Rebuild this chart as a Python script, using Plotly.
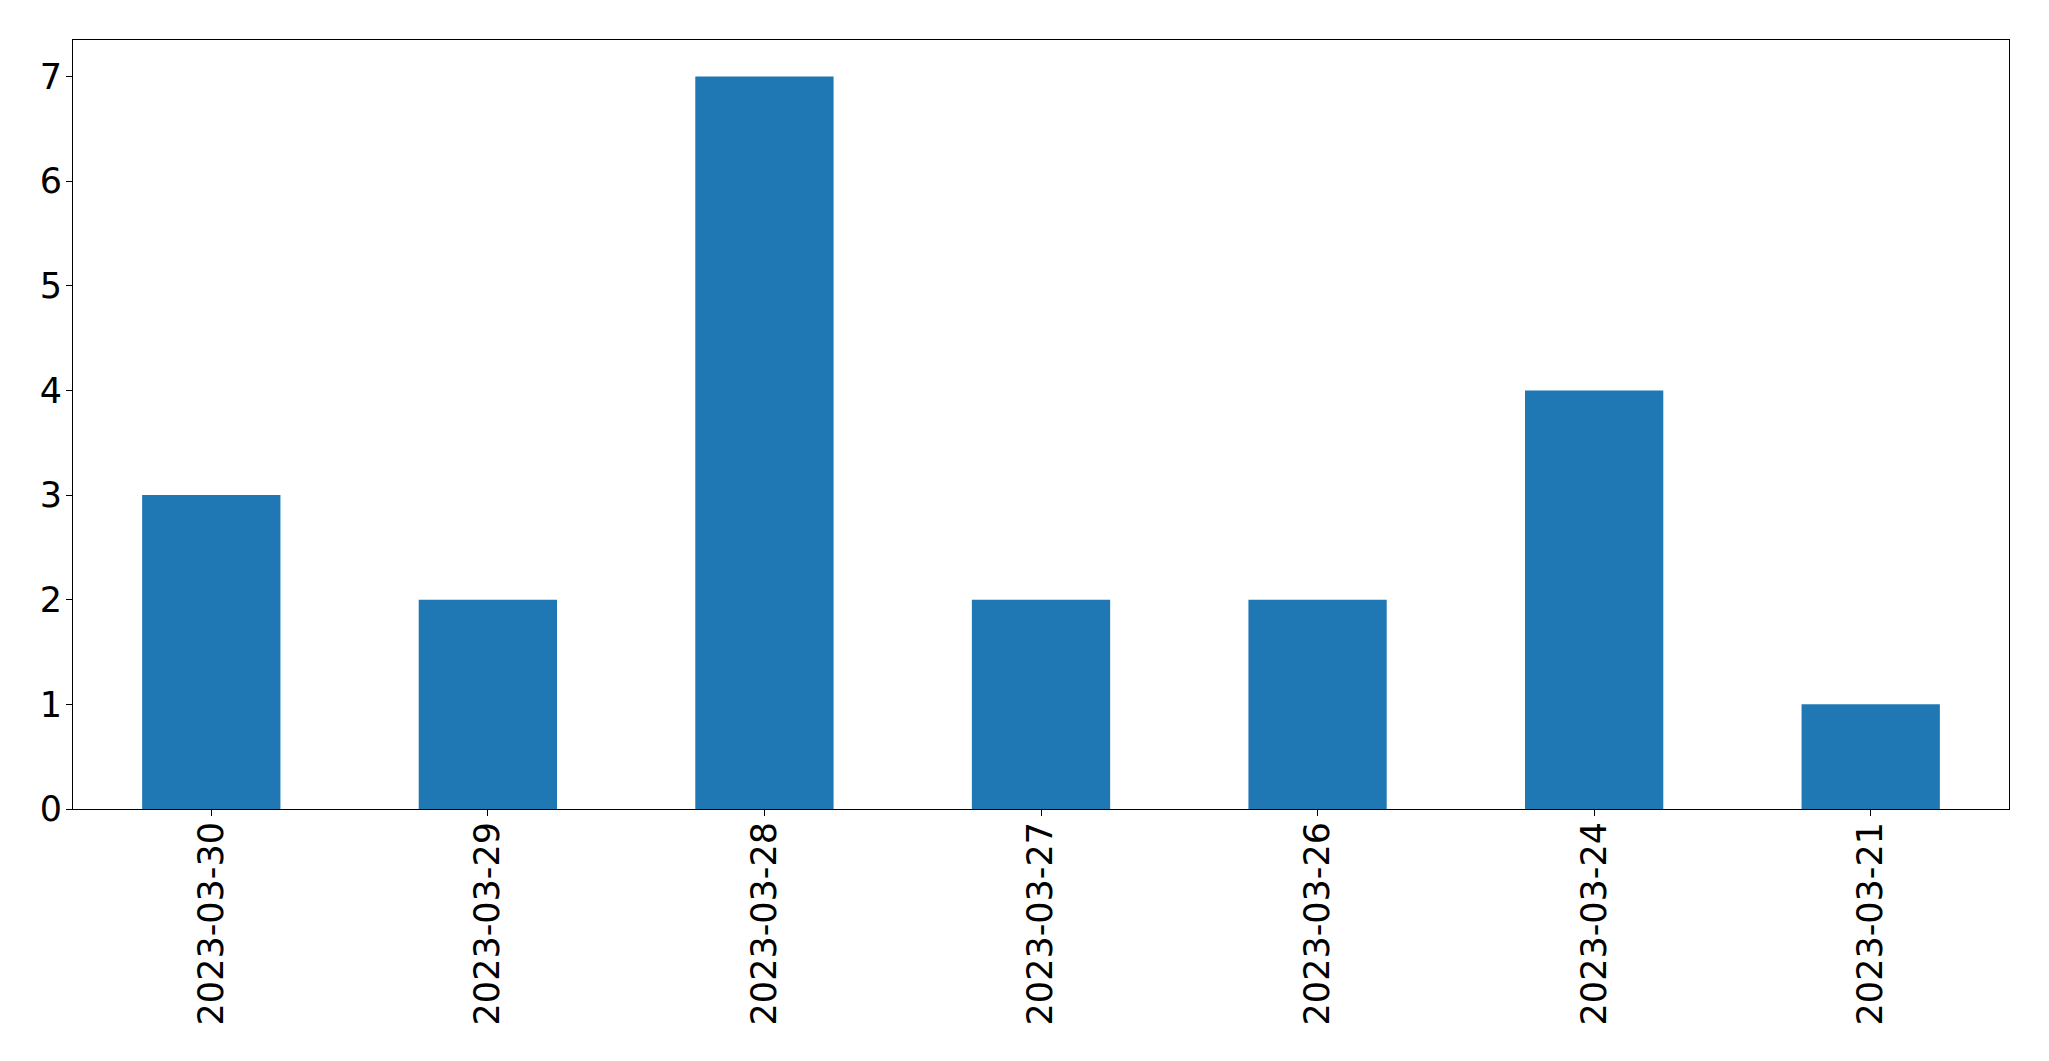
import plotly.graph_objects as go

dates = ["2023-03-30", "2023-03-29", "2023-03-28", "2023-03-27", "2023-03-26", "2023-03-24", "2023-03-21"]
counts = [3, 2, 7, 2, 2, 4, 1]
y_ticks = [0, 1, 2, 3, 4, 5, 6, 7]

fig = go.Figure(go.Bar(x=dates, y=counts, width=0.5, marker=dict(color="#1f77b4", line=dict(width=0))))

axis_common = dict(
    showline=True, linecolor="black", linewidth=1, mirror=True,
    ticks="outside", ticklen=6, tickwidth=1, tickcolor="black",
    showgrid=False, zeroline=False,
    tickfont=dict(family="DejaVu Sans", size=35, color="black"),
)

fig.update_layout(
    width=2041, height=1053,
    margin=dict(l=65, r=40, t=32, b=252, pad=0),
    paper_bgcolor="white", plot_bgcolor="white",
    showlegend=False,
    xaxis=dict(type="category", range=[-0.5, 6.5], tickangle=-90, automargin=False,
               ticklabelstandoff=-8, **axis_common),
    yaxis=dict(range=[0, 7.35], tickvals=y_ticks, automargin=False,
               ticklabelstandoff=-3, **axis_common),
)

fig.write_html("out.html")
